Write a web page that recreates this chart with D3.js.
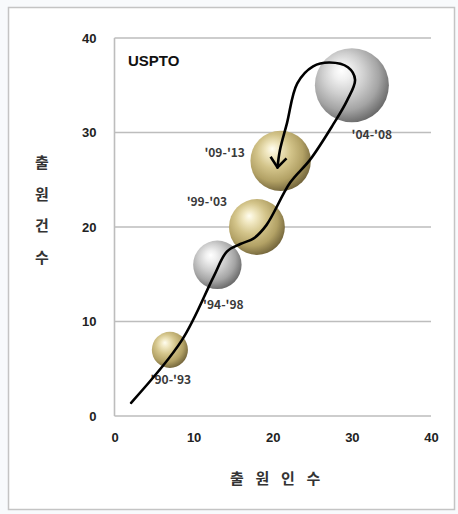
<!DOCTYPE html>
<html>
<head>
<meta charset="utf-8">
<script src="https://cdn.jsdelivr.net/npm/d3@7"></script>
<style>
  html, body { margin: 0; padding: 0; background: #f8fafc; }
  svg { display: block; }
</style>
</head>
<body>
<script>
// Applicants vs. applications at the USPTO, by five-year period
const periods = ["'90-'93", "'94-'98", "'99-'03", "'04-'08", "'09-'13"];
const applicants = [7, 13, 18, 30, 21];
const applications = [7, 16, 20, 35, 27];
const bubbleSize = [5, 9, 12, 21, 14];
const finish = ["gold", "silver", "gold", "silver", "gold"];

// trend path drawn through the periods, ending in an arrow
const trendX = [2.1, 8.5, 12.5, 14.2, 15.9, 17.6, 19.2, 22.2, 24.7, 27.6, 29.4, 30.4, 29.5, 27.2, 25.1, 23.1, 21.8, 20.9, 20.6];
const trendY = [1.4, 8.0, 14.7, 17.4, 18.2, 18.8, 20.2, 24.7, 27.1, 30.8, 33.4, 35.6, 36.9, 37.4, 37.0, 35.2, 31.0, 28.1, 26.3];

const xTicks = [0, 10, 20, 30, 40];
const yTicks = [0, 10, 20, 30, 40];

const W = 458, H = 514;
const svg = d3.select("body").append("svg").attr("width", W).attr("height", H);

// outer frame
svg.append("rect").attr("x", 8.5).attr("y", 7.5).attr("width", 446).attr("height", 502)
  .attr("fill", "#fff").attr("stroke", "#c4c4c4").attr("stroke-width", 1.5);

const x = d3.scaleLinear().domain([0, 40]).range([114.5, 431]);
const y = d3.scaleLinear().domain([0, 40]).range([416, 38]);
const r = d3.scaleSqrt().domain([0, 21]).range([0, 37]);

const defs = svg.append("defs");
const grads = {
  gold: [["0%", "#fffdf0"], ["18%", "#f1e8c2"], ["45%", "#d3c48a"], ["75%", "#b2a165"], ["100%", "#74663c"]],
  silver: [["0%", "#ffffff"], ["18%", "#f0f0f0"], ["45%", "#cfcfcf"], ["75%", "#a4a4a4"], ["100%", "#6a6a6a"]]
};
Object.entries(grads).forEach(([k, stops]) => {
  const g = defs.append("radialGradient").attr("id", "ball-" + k)
    .attr("cx", "42%").attr("cy", "40%").attr("r", "62%")
    .attr("fx", "36%").attr("fy", "30%");
  stops.forEach(([o, c]) => g.append("stop").attr("offset", o).attr("stop-color", c));
});
const soft = defs.append("filter").attr("id", "soft").attr("x", "-20%").attr("y", "-20%").attr("width", "140%").attr("height", "140%");
soft.append("feGaussianBlur").attr("stdDeviation", 0.6);

defs.append("marker").attr("id", "arrow")
  .attr("viewBox", "-12 -10 14 20").attr("refX", 0).attr("refY", 0)
  .attr("markerWidth", 14).attr("markerHeight", 20)
  .attr("markerUnits", "userSpaceOnUse").attr("orient", "auto")
  .append("path").attr("d", "M-10,-8 L0,0 L-10,8")
  .attr("fill", "none").attr("stroke", "#000").attr("stroke-width", 2.6)
  .attr("stroke-linejoin", "miter");

// gridlines
svg.append("g").selectAll("line").data(yTicks.filter(d => d > 0)).join("line")
  .attr("x1", x(0)).attr("x2", x(40)).attr("y1", d => y(d)).attr("y2", d => y(d))
  .attr("stroke", "#bdbdbd").attr("stroke-width", 1.6);

// axis lines
svg.append("line").attr("x1", x(0)).attr("x2", x(0)).attr("y1", y(40)).attr("y2", y(0))
  .attr("stroke", "#bdbdbd").attr("stroke-width", 1.6);
svg.append("line").attr("x1", x(0)).attr("x2", x(40)).attr("y1", y(0)).attr("y2", y(0))
  .attr("stroke", "#bdbdbd").attr("stroke-width", 1.6);

const tickFont = "'Liberation Sans', Arial, sans-serif";
const yAxis = svg.append("g").attr("transform", `translate(${x(0)},0)`)
  .call(d3.axisLeft(y).tickValues(yTicks).tickSize(0).tickPadding(18));
const xAxis = svg.append("g").attr("transform", `translate(0,${y(0)})`)
  .call(d3.axisBottom(x).tickValues(xTicks).tickSize(0).tickPadding(17));
[xAxis, yAxis].forEach(a => {
  a.select(".domain").remove();
  a.selectAll("text").attr("font-family", tickFont).attr("font-size", 13)
    .attr("font-weight", "bold").attr("fill", "#222");
});

// bubbles
const idx = d3.range(periods.length);
svg.append("g").attr("filter", "url(#soft)").selectAll("circle").data(idx).join("circle")
  .attr("cx", i => x(applicants[i])).attr("cy", i => y(applications[i]))
  .attr("r", i => r(bubbleSize[i]))
  .attr("fill", i => `url(#ball-${finish[i]})`);

// period labels
const labelPos = [[1, 31], [6, 41], [-50, -24], [20, 50], [-56, -7]];
svg.append("g").selectAll("text").data(idx).join("text")
  .attr("x", i => x(applicants[i]) + labelPos[i][0])
  .attr("y", i => y(applications[i]) + labelPos[i][1])
  .attr("text-anchor", "middle").attr("dominant-baseline", "middle")
  .attr("font-family", "'Noto Sans CJK KR', 'Noto Sans', sans-serif")
  .attr("font-size", 12).attr("font-weight", "bold").attr("fill", "#3a3a3a")
  .text(i => periods[i]);

// trend curve
const pts = trendX.map((v, i) => [v, trendY[i]]);
svg.append("path")
  .attr("d", d3.line().x(d => x(d[0])).y(d => y(d[1])).curve(d3.curveCatmullRom.alpha(0.5))(pts))
  .attr("fill", "none").attr("stroke", "#000").attr("stroke-width", 2.6)
  .attr("stroke-linecap", "round").attr("marker-end", "url(#arrow)");

// title inside plot
svg.append("text").attr("x", 128).attr("y", 66)
  .attr("font-family", "'Liberation Sans', Arial, sans-serif")
  .attr("font-size", 15).attr("font-weight", "bold").attr("fill", "#111")
  .text("USPTO");

// axis titles
const kFont = "'Noto Sans CJK KR', sans-serif";
svg.append("g").selectAll("text").data(["출", "원", "건", "수"]).join("text")
  .attr("x", 42).attr("y", (d, i) => 164 + i * 31.5)
  .attr("text-anchor", "middle").attr("dominant-baseline", "middle")
  .attr("font-family", kFont).attr("font-size", 15).attr("font-weight", "bold").attr("fill", "#333")
  .text(d => d);
svg.append("g").selectAll("text").data(["출", "원", "인", "수"]).join("text")
  .attr("x", (d, i) => 237 + i * 25.5).attr("y", 480)
  .attr("text-anchor", "middle").attr("dominant-baseline", "middle")
  .attr("font-family", kFont).attr("font-size", 15).attr("font-weight", "bold").attr("fill", "#333")
  .text(d => d);
</script>
</body>
</html>
